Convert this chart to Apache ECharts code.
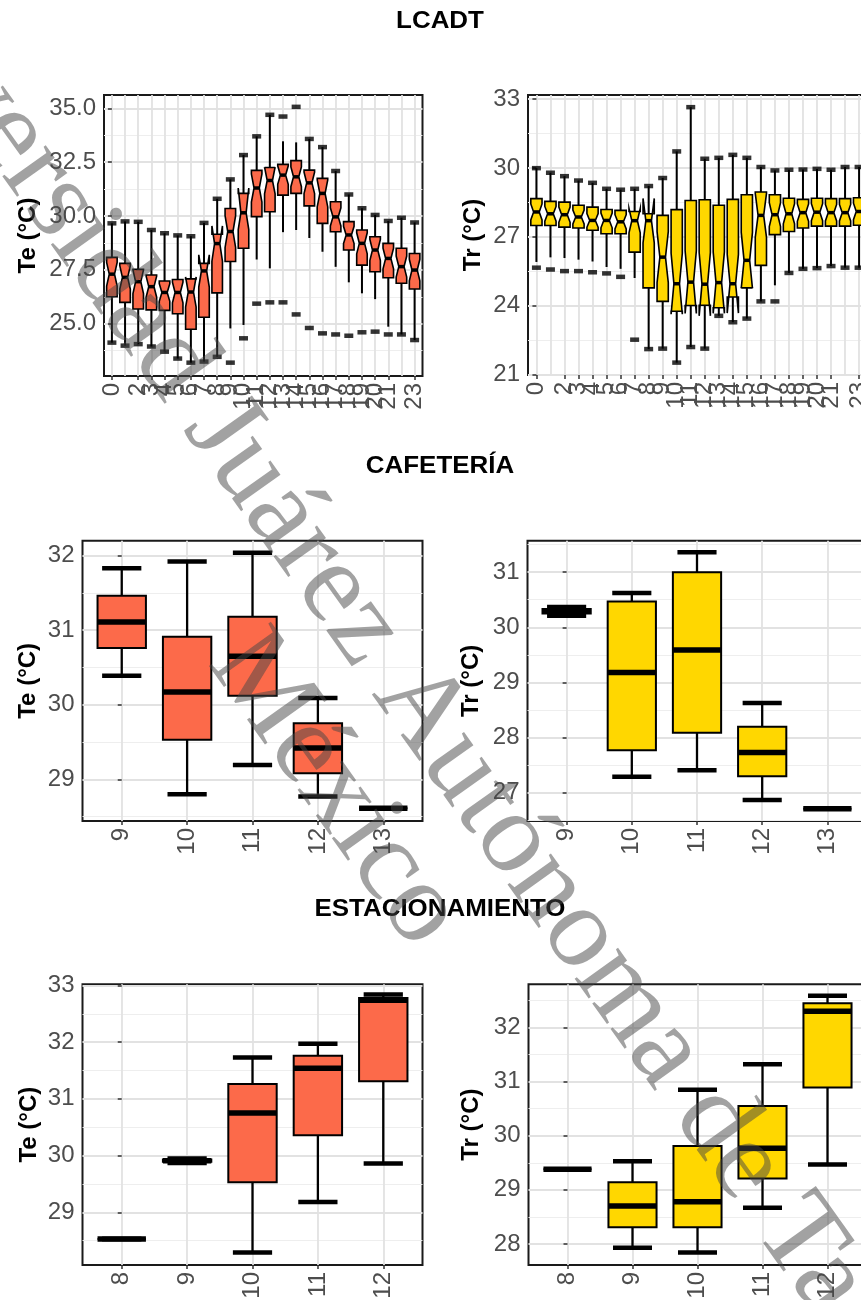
<!DOCTYPE html>
<html><head><meta charset="utf-8">
<script src="https://cdn.jsdelivr.net/npm/echarts@6/dist/echarts.min.js"></script>
<style>html,body{margin:0;padding:0;background:#fff}#c{width:861px;height:1300px}</style>
</head><body><div id="c"></div>
<script>
// ---------- DATA ----------
const hourLabels = ['0','1','2','3','4','5','6','7','8','9','10','11','12','13','14','15','16','17','18','19','20','21','22','23'];

// LCADT - Te
const lcadtTeLow  = [24.12,23.98,24.05,23.94,23.70,23.38,23.19,23.24,23.46,24.78,24.94,27.98,27.57,29.25,29.35,28.98,28.34,27.64,26.92,26.41,26.14,24.86,24.50,24.24];
const lcadtTeQ1   = [26.25,25.99,25.68,25.64,25.62,25.46,24.74,25.30,26.43,27.89,28.50,29.97,30.20,30.97,31.05,30.47,29.66,29.27,28.42,27.72,27.41,27.13,26.88,26.61];
const lcadtTeMed  = [27.30,27.15,26.95,26.72,26.45,26.45,26.47,27.45,28.72,29.28,30.15,31.30,31.65,31.90,31.82,31.54,31.05,29.96,29.12,28.73,28.42,28.03,27.65,27.49];
const lcadtTeQ3   = [28.08,27.80,27.52,27.26,26.98,27.05,27.08,27.80,29.15,30.35,31.05,32.12,32.25,32.40,32.57,32.13,31.75,30.66,29.74,29.35,29.04,28.73,28.50,28.26];
const lcadtTeHigh = [29.66,29.75,29.73,29.35,29.20,29.10,29.06,29.68,30.80,31.70,32.83,33.70,34.70,33.47,33.42,33.58,33.20,32.09,31.00,30.36,30.05,29.77,29.92,29.70];
const lcadtTeNotchLow  = [26.75,26.61,26.40,26.23,26.04,25.97,25.77,26.70,27.90,28.54,29.37,30.65,31.03,31.47,31.36,31.04,30.42,29.54,28.72,28.24,27.93,27.55,27.16,26.99];
const lcadtTeNotchHigh = [27.85,27.69,27.50,27.21,26.86,26.93,27.17,28.20,29.54,30.02,31.30,31.95,32.27,32.33,32.28,32.04,31.68,30.38,29.52,29.22,28.91,28.51,28.14,27.99];
const lcadtTeMarks = [
  [0,29.66],[1,29.75],[2,29.73],[3,29.35],[4,29.20],[5,29.10],[6,29.06],[7,29.68],[8,30.80],[9,31.70],[10,32.83],[11,33.70],[12,34.70],
  [13,34.62],[14,35.07],
  [15,33.58],[16,33.20],[17,32.09],[18,31.00],[19,30.36],[20,30.05],[21,29.77],[22,29.92],[23,29.70],
  [0,24.12],[1,23.98],[2,24.05],[3,23.94],[4,23.70],[5,23.38],[6,23.19],[7,23.24],[8,23.46],
  [9,23.19],[10,24.32],[11,25.93],[12,25.99],[13,25.99],[14,25.43],[15,24.80],[16,24.55],[17,24.50],[18,24.44],[19,24.60],[20,24.63],[21,24.50],
  [22,24.50],[23,24.24]
];
const lcadtTeTicks = [25, 27.5, 30, 32.5, 35];
const lcadtTeMinor = [23.75, 26.25, 28.75, 31.25, 33.75];

// LCADT - Tr
const lcadtTrLow  = [25.90,26.10,26.07,26.00,25.92,25.68,25.60,25.20,22.10,22.12,21.51,22.19,22.12,23.55,23.27,23.43,24.18,24.88,25.42,25.60,25.63,25.72,25.65,25.65];
const lcadtTrQ1   = [27.49,27.49,27.42,27.38,27.28,27.13,27.13,26.33,24.77,24.18,23.75,24.00,24.01,23.90,24.37,24.77,25.75,27.09,27.23,27.38,27.46,27.46,27.46,27.50];
const lcadtTrMed  = [28.08,28.00,27.96,27.86,27.71,27.71,27.65,27.70,27.70,26.11,24.95,25.02,24.93,25.00,24.95,25.97,27.93,27.96,28.00,28.05,28.07,28.05,28.05,28.10];
const lcadtTrQ3   = [28.66,28.54,28.51,28.37,28.29,28.19,28.15,28.10,28.00,27.93,28.18,28.58,28.61,28.37,28.63,28.83,28.95,28.83,28.68,28.63,28.68,28.66,28.66,28.70];
const lcadtTrHigh = [29.99,29.79,29.64,29.45,29.35,29.09,29.05,29.09,29.21,29.56,30.72,32.65,30.40,30.44,30.57,30.44,30.04,29.89,29.92,29.93,29.96,29.92,30.04,30.04];
const lcadtTrNotchLow  = [27.73,27.68,27.63,27.56,27.41,27.39,27.34,27.17,26.73,25.00,23.62,23.65,23.55,23.66,23.67,24.75,26.97,27.44,27.56,27.67,27.70,27.69,27.69,27.74];
const lcadtTrNotchHigh = [28.43,28.32,28.29,28.16,28.01,28.03,27.96,28.23,28.67,27.22,26.28,26.39,26.31,26.34,26.23,27.19,28.89,28.48,28.44,28.43,28.44,28.41,28.41,28.46];
const lcadtTrMarks = [
  [0,29.99],[1,29.79],[2,29.64],[3,29.45],[4,29.35],[5,29.09],[6,29.05],[7,29.09],[8,29.21],[9,29.56],[10,30.72],[11,32.65],
  [12,30.40],[13,30.44],[14,30.57],[15,30.44],[16,30.04],[17,29.89],[18,29.92],[19,29.93],[20,29.96],[21,29.92],[22,30.04],[23,30.04],
  [0,25.65],[1,25.57],[2,25.50],[3,25.50],[4,25.45],[5,25.40],[6,25.25],[7,22.51],[8,22.10],[9,22.12],[10,21.51],[11,22.19],
  [12,22.12],[13,23.55],[14,23.27],[15,23.43],[16,24.18],[17,24.18],[18,25.42],[19,25.60],[20,25.63],[21,25.72],[22,25.65],[23,25.65]
];
const lcadtTrTicks = [21, 24, 27, 30, 33];
const lcadtTrMinor = [22.5, 25.5, 28.5, 31.5];

// CAFETERÍA
const cafeHours = ['9','10','11','12','13'];
const cafeTeLow  = [30.39,28.80,29.19,28.77,28.61];
const cafeTeQ1   = [30.76,29.53,30.12,29.08,28.61];
const cafeTeMed  = [31.11,30.17,30.65,29.42,28.61];
const cafeTeQ3   = [31.46,30.91,31.18,29.75,28.61];
const cafeTeHigh = [31.83,31.92,32.04,30.09,28.61];
const cafeTeTicks = [29, 30, 31, 32];
const cafeTeMinor = [28.5, 29.5, 30.5, 31.5];

const cafeTrLow  = [30.21,27.29,27.41,26.87,26.71];
const cafeTrQ1   = [30.25,27.77,28.09,27.30,26.71];
const cafeTrMed  = [30.29,29.18,29.59,27.73,26.71];
const cafeTrQ3   = [30.33,30.47,31.00,28.20,26.71];
const cafeTrHigh = [30.37,30.62,31.36,28.63,26.71];
const cafeTrTicks = [27, 28, 29, 30, 31];
const cafeTrMinor = [26.5, 27.5, 28.5, 29.5, 30.5, 31.5];

// ESTACIONAMIENTO
const estHours = ['8','9','10','11','12'];
const estTeLow  = [28.53,29.87,28.29,29.18,29.86];
const estTeQ1   = [28.53,29.89,29.53,30.36,31.31];
const estTeMed  = [28.53,29.91,30.75,31.54,32.74];
const estTeQ3   = [28.53,29.93,31.26,31.76,32.78];
const estTeHigh = [28.53,29.95,31.73,31.97,32.84];
const estTeTicks = [29, 30, 31, 32, 33];
const estTeMinor = [28.5, 29.5, 30.5, 31.5, 32.5];

const estTrLow  = [29.38,27.93,27.84,28.67,29.47];
const estTrQ1   = [29.38,28.31,28.31,29.21,30.89];
const estTrMed  = [29.38,28.70,28.78,29.77,32.30];
const estTrQ3   = [29.38,29.14,29.81,30.55,32.45];
const estTrHigh = [29.38,29.53,30.85,31.32,32.59];
const estTrTicks = [28, 29, 30, 31, 32];
const estTrMinor = [28.5, 29.5, 30.5, 31.5, 32.5];

const sectionTitles = ['LCADT', 'CAFETERÍA', 'ESTACIONAMIENTO'];
const watermarkText = 'Universidad Juárez Autónoma de Tabasco\nMéxico';

// ---------- STYLE / LAYOUT ----------
const FONT = '"Liberation Sans", Arial, Helvetica, sans-serif';
const TE_COLOR = '#FC6A4A';
const TR_COLOR = '#FFD700';

const panels = [
  {left:104, top:95, width:318.5, height:281, cats:hourLabels, low:lcadtTeLow, q1:lcadtTeQ1, med:lcadtTeMed, q3:lcadtTeQ3, high:lcadtTeHigh,
   nLow:lcadtTeNotchLow, nHigh:lcadtTeNotchHigh, marks:lcadtTeMarks, yMin:22.57, yMax:35.62, ticks:lcadtTeTicks, minor:lcadtTeMinor, dec:1,
   name:'Te (°C)', nameGap:64, color:TE_COLOR, notch:true, boxW:0.8},
  {left:528, top:95, width:339.5, height:280, cats:hourLabels, low:lcadtTrLow, q1:lcadtTrQ1, med:lcadtTrMed, q3:lcadtTrQ3, high:lcadtTrHigh,
   nLow:lcadtTrNotchLow, nHigh:lcadtTrNotchHigh, marks:lcadtTrMarks, yMin:20.97, yMax:33.18, ticks:lcadtTrTicks, minor:lcadtTrMinor, dec:0,
   name:'Tr (°C)', nameGap:43, color:TR_COLOR, notch:true, boxW:0.8},
  {left:82.5, top:540.7, width:340, height:280.3, cats:cafeHours, low:cafeTeLow, q1:cafeTeQ1, med:cafeTeMed, q3:cafeTeQ3, high:cafeTeHigh,
   yMin:28.44, yMax:32.2, ticks:cafeTeTicks, minor:cafeTeMinor, dec:0, name:'Te (°C)', nameGap:42, color:TE_COLOR, notch:false, boxW:0.74, capW:0.6},
  {left:527.5, top:540.7, width:339, height:280.3, cats:cafeHours, low:cafeTrLow, q1:cafeTrQ1, med:cafeTrMed, q3:cafeTrQ3, high:cafeTrHigh,
   yMin:26.49, yMax:31.57, ticks:cafeTrTicks, minor:cafeTrMinor, dec:0, name:'Tr (°C)', nameGap:44, color:TR_COLOR, notch:false, boxW:0.74, capW:0.6},
  {left:82.5, top:984.3, width:340, height:280.7, cats:estHours, low:estTeLow, q1:estTeQ1, med:estTeMed, q3:estTeQ3, high:estTeHigh,
   yMin:28.07, yMax:33.02, ticks:estTeTicks, minor:estTeMinor, dec:0, name:'Te (°C)', nameGap:41, color:TE_COLOR, notch:false, boxW:0.74, capW:0.6},
  {left:528.5, top:984.3, width:338, height:280.7, cats:estHours, low:estTrLow, q1:estTrQ1, med:estTrMed, q3:estTrQ3, high:estTrHigh,
   yMin:27.61, yMax:32.80, ticks:estTrTicks, minor:estTrMinor, dec:0, name:'Tr (°C)', nameGap:45, color:TR_COLOR, notch:false, boxW:0.74, capW:0.6}
];

function makeRender(p) {
  return function (params, api) {
    const x = api.value(0);
    const lo = api.value(1), q1 = api.value(2), md = api.value(3), q3 = api.value(4), hi = api.value(5);
    const cx = api.coord([x, md])[0];
    const Y = v => api.coord([x, v])[1];
    const hw = api.size([p.boxW, 0])[0] / 2;
    const blk = '#000';
    const wl = p.notch ? 2 : 2.3;
    const ch = [];
    ch.push({type:'line', shape:{x1:cx, y1:Y(q1), x2:cx, y2:Y(lo)}, style:{stroke:blk, lineWidth:wl}});
    ch.push({type:'line', shape:{x1:cx, y1:Y(q3), x2:cx, y2:Y(hi)}, style:{stroke:blk, lineWidth:wl}});
    if (p.capW) {
      const cw = api.size([p.capW, 0])[0] / 2;
      ch.push({type:'line', shape:{x1:cx-cw, y1:Y(lo), x2:cx+cw, y2:Y(lo)}, style:{stroke:blk, lineWidth:4.5}});
      ch.push({type:'line', shape:{x1:cx-cw, y1:Y(hi), x2:cx+cw, y2:Y(hi)}, style:{stroke:blk, lineWidth:4.5}});
    }
    let pts, mx;
    if (p.notch) {
      const nl = api.value(6), nh = api.value(7);
      const ni = hw * 0.5;
      pts = [[cx-hw,Y(q1)],[cx-hw,Y(nl)],[cx-ni,Y(md)],[cx-hw,Y(nh)],[cx-hw,Y(q3)],
             [cx+hw,Y(q3)],[cx+hw,Y(nh)],[cx+ni,Y(md)],[cx+hw,Y(nl)],[cx+hw,Y(q1)]];
      mx = ni;
    } else {
      pts = [[cx-hw,Y(q1)],[cx-hw,Y(q3)],[cx+hw,Y(q3)],[cx+hw,Y(q1)]];
      mx = hw;
    }
    ch.push({type:'polygon', shape:{points:pts}, style:{fill:p.color, stroke:blk, lineWidth:p.notch ? 1.6 : 2, lineJoin:'miter'}});
    ch.push({type:'line', shape:{x1:cx-mx, y1:Y(md), x2:cx+mx, y2:Y(md)}, style:{stroke:blk, lineWidth:p.notch ? 3.5 : 5.5}});
    return {type:'group', children:ch};
  };
}

const option = {animation:false, grid:[], xAxis:[], yAxis:[], series:[], graphic:[]};

panels.forEach((p, i) => {
  const n = p.cats.length;
  const idx = p.cats.map((_, k) => k);
  option.grid.push({left:p.left, top:p.top, width:p.width, height:p.height, show:true,
    borderColor:'#1a1a1a', borderWidth:2, backgroundColor:'#ffffff', containLabel:false, outerBoundsMode:'none'});
  option.xAxis.push({type:'value', gridIndex:i, min:-0.6, max:n - 0.4,
    axisLine:{show:false},
    axisTick:{show:true, customValues:idx, length:4, lineStyle:{color:'#333', width:1.5}},
    axisLabel:{show:true, customValues:idx, formatter:v => p.cats[Math.round(v)], rotate:90, margin:7,
      fontSize:24, color:'#4d4d4d', fontFamily:FONT, hideOverlap:false, showMinLabel:true, showMaxLabel:true, interval:0},
    splitLine:{show:true, lineStyle:{color:'#e2e2e2', width:1.8}}});
  option.yAxis.push({type:'value', gridIndex:i, min:p.yMin, max:p.yMax,
    axisLine:{show:false},
    axisTick:{show:true, customValues:p.ticks, length:4, lineStyle:{color:'#333', width:1.5}},
    axisLabel:{show:true, customValues:p.ticks, formatter:v => v.toFixed(p.dec), margin:8,
      fontSize:24, color:'#4d4d4d', fontFamily:FONT, showMinLabel:true, showMaxLabel:true},
    splitLine:{show:true, lineStyle:{color:'#e2e2e2', width:1.8}},
    name:p.name, nameLocation:'middle', nameGap:p.nameGap,
    nameTextStyle:{fontSize:24, fontWeight:'bold', color:'#000', fontFamily:FONT}});
  option.yAxis.push({type:'value', gridIndex:i, position:'left', min:p.yMin, max:p.yMax,
    axisLine:{show:false}, axisTick:{show:false, customValues:p.minor}, axisLabel:{show:false},
    splitLine:{show:true, lineStyle:{color:'#eeeeee', width:1}}});
  option.series.push({type:'custom', xAxisIndex:i, yAxisIndex:2*i, silent:true, z:3,
    renderItem:makeRender(p), encode:{x:0, y:[1,2,3,4,5]},
    data:idx.map(k => p.notch
      ? [k, p.low[k], p.q1[k], p.med[k], p.q3[k], p.high[k], p.nLow[k], p.nHigh[k]]
      : [k, p.low[k], p.q1[k], p.med[k], p.q3[k], p.high[k]])});
  if (p.marks) {
    option.series.push({type:'scatter', xAxisIndex:i, yAxisIndex:2*i, silent:true, z:4,
      symbol:'rect', symbolSize:[9, 4.5], itemStyle:{color:'#000'}, data:p.marks});
  }
});

const titleY = [21, 466, 909];
sectionTitles.forEach((t, k) => {
  option.graphic.push({type:'text', x:440, y:titleY[k], scaleX:1.08, z:50, silent:true,
    style:{text:t, fontSize:24, fontWeight:'bold', fontFamily:FONT, fill:'#000',
      align:'center', verticalAlign:'middle', textAlign:'center', textVerticalAlign:'middle'}});
});
option.graphic.push({type:'text', x:382, y:756, rotation:-54.5 * Math.PI / 180, z:100, silent:true,
  style:{text:watermarkText, fontSize:116, fontFamily:'"Liberation Serif", "Times New Roman", serif',
    fill:'rgba(70,70,70,0.5)', lineHeight:116,
    align:'center', verticalAlign:'middle', textAlign:'center', textVerticalAlign:'middle'}});

const chart = echarts.init(document.getElementById('c'), null, {renderer:'canvas'});
chart.setOption(option);
</script></body></html>
